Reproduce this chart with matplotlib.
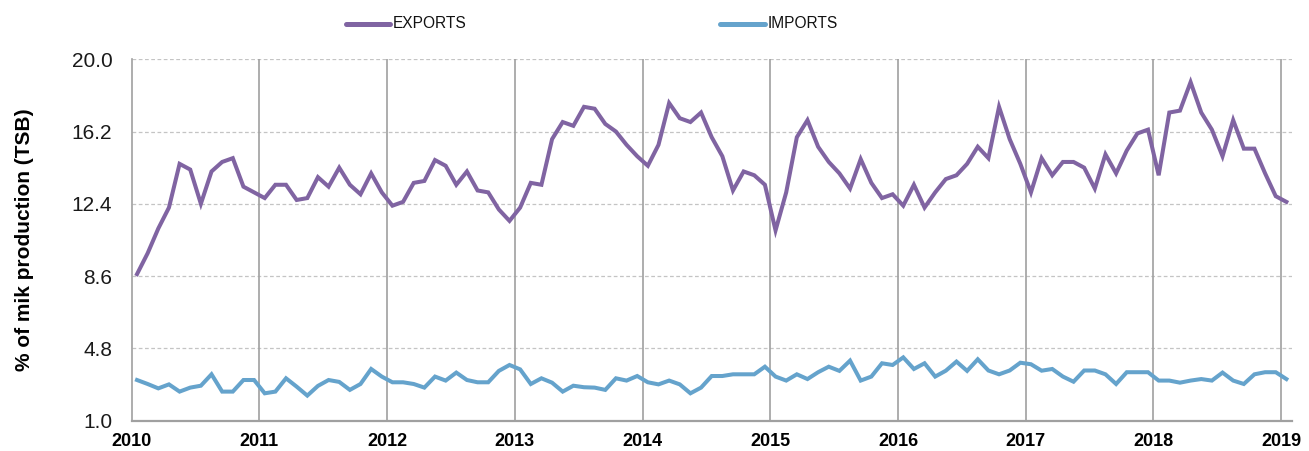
import matplotlib
matplotlib.use("Agg")
import matplotlib.pyplot as plt
import numpy as np

years = [2010, 2011, 2012, 2013, 2014, 2015, 2016, 2017, 2018, 2019]
y_ticks = [1.0, 4.8, 8.6, 12.4, 16.2, 20.0]

# Monthly values, Jan 2010 .. Jan 2019
exports = [
    8.7, 9.8, 11.1, 12.2, 14.5, 14.2, 12.4, 14.1, 14.6, 14.8, 13.3, 13.0,
    12.7, 13.4, 13.4, 12.6, 12.7, 13.8, 13.3, 14.3, 13.4, 12.9, 14.0, 13.0,
    12.3, 12.5, 13.5, 13.6, 14.7, 14.4, 13.4, 14.1, 13.1, 13.0, 12.1, 11.5,
    12.2, 13.5, 13.4, 15.8, 16.7, 16.5, 17.5, 17.4, 16.6, 16.2, 15.5, 14.9,
    14.4, 15.5, 17.7, 16.9, 16.7, 17.2, 15.9, 14.9, 13.1, 14.1, 13.9, 13.4,
    11.0, 13.0, 15.9, 16.8, 15.4, 14.6, 14.0, 13.2, 14.75, 13.5, 12.7, 12.9,
    12.3, 13.4, 12.2, 13.0, 13.7, 13.9, 14.5, 15.4, 14.8, 17.5, 15.8, 14.5,
    13.0, 14.8, 13.9, 14.6, 14.6, 14.3, 13.2, 15.0, 14.0, 15.2, 16.1, 16.3,
    13.9, 17.2, 17.3, 18.8, 17.2, 16.3, 14.9, 16.8, 15.3, 15.3, 14.0, 12.8,
    12.5,
]
imports = [
    3.13, 2.92, 2.69, 2.90, 2.52, 2.73, 2.83, 3.43, 2.52, 2.52, 3.13, 3.13,
    2.43, 2.52, 3.22, 2.78, 2.31, 2.82, 3.13, 3.03, 2.61, 2.92, 3.71, 3.31,
    3.01, 3.01, 2.92, 2.73, 3.31, 3.10, 3.52, 3.13, 3.01, 3.01, 3.61, 3.92,
    3.69, 2.92, 3.22, 2.99, 2.52, 2.83, 2.75, 2.73, 2.61, 3.22, 3.10, 3.34,
    3.01, 2.90, 3.10, 2.90, 2.43, 2.73, 3.34, 3.34, 3.43, 3.43, 3.43, 3.83,
    3.31, 3.10, 3.43, 3.18, 3.54, 3.83, 3.61, 4.15, 3.10, 3.31, 4.01, 3.92,
    4.32, 3.71, 4.01, 3.31, 3.62, 4.10, 3.61, 4.22, 3.63, 3.43, 3.63, 4.04,
    3.96, 3.62, 3.71, 3.31, 3.04, 3.63, 3.63, 3.43, 2.92, 3.54, 3.54, 3.54,
    3.10, 3.10, 2.99, 3.10, 3.18, 3.10, 3.52, 3.10, 2.92, 3.43, 3.54, 3.54,
    3.18,
]

series_names = ["EXPORTS", "IMPORTS"]
colors = ["#8064a2", "#65a3cc"]

plt.rcParams['font.family'] = ['Liberation Sans', 'DejaVu Sans']

fig = plt.figure(figsize=(13.09, 4.51), dpi=100)
ax = fig.add_axes([131.7 / 1309, 1 - 420.5 / 451, (1291.7 - 131.7) / 1309, (420.5 - 59.3) / 451])

n = len(exports)
x = np.arange(n) + 0.5
ax.plot(x, exports, color=colors[0], lw=2.9, solid_joinstyle='miter', label=series_names[0])
ax.plot(x, imports, color=colors[1], lw=2.9, solid_joinstyle='miter', label=series_names[1])

ax.set_xlim(0, n)
ax.set_ylim(1.0, 20.0)
ax.set_yticks(y_ticks)
ax.set_yticklabels([f"{v:.1f}" for v in y_ticks], fontsize=15, color="#1a1a1a")
ax.set_xticks([12 * (yr - 2010) for yr in years])
ax.set_xticklabels([str(yr) for yr in years], fontsize=13, fontweight='bold')
ax.tick_params(axis='y', length=0, pad=14)
ax.tick_params(axis='x', length=0, pad=9)

for v in y_ticks[1:]:
    ax.axhline(v, color="#c4c4c4", lw=0.9, ls=(0, (3, 2)), zorder=0)
for xv in [12 * (yr - 2010) for yr in years[1:]]:
    ax.axvline(xv, color="#a0a0a0", lw=1.2, zorder=0)

for s in ['top', 'right']:
    ax.spines[s].set_visible(False)
ax.spines['left'].set_color("#a0a0a0")
ax.spines['bottom'].set_color("#a0a0a0")
ax.spines['left'].set_linewidth(1.2)
ax.spines['bottom'].set_linewidth(1.6)

ax.set_ylabel("% of mik production (TSB)", fontsize=15, fontweight='bold')
ax.yaxis.set_label_coords(-0.084, 0.5)

# legend drawn in figure pixel coords
def fx(px):
    return px / 1309
def fy(py):
    return 1 - py / 451

legend_items = [(346, 390, 393, series_names[0], colors[0]),
                (720, 765, 768, series_names[1], colors[1])]
for (lx0, lx1, tx, name, c) in legend_items:
    fig.add_artist(plt.Line2D([fx(lx0), fx(lx1)], [fy(23.5), fy(23.5)], color=c, lw=3.6,
                              transform=fig.transFigure, solid_capstyle='round'))
    fig.text(fx(tx), fy(23.5), name, fontsize=11.2, va='center', ha='left', color="#111111")

fig.savefig("out.png", dpi=100)
